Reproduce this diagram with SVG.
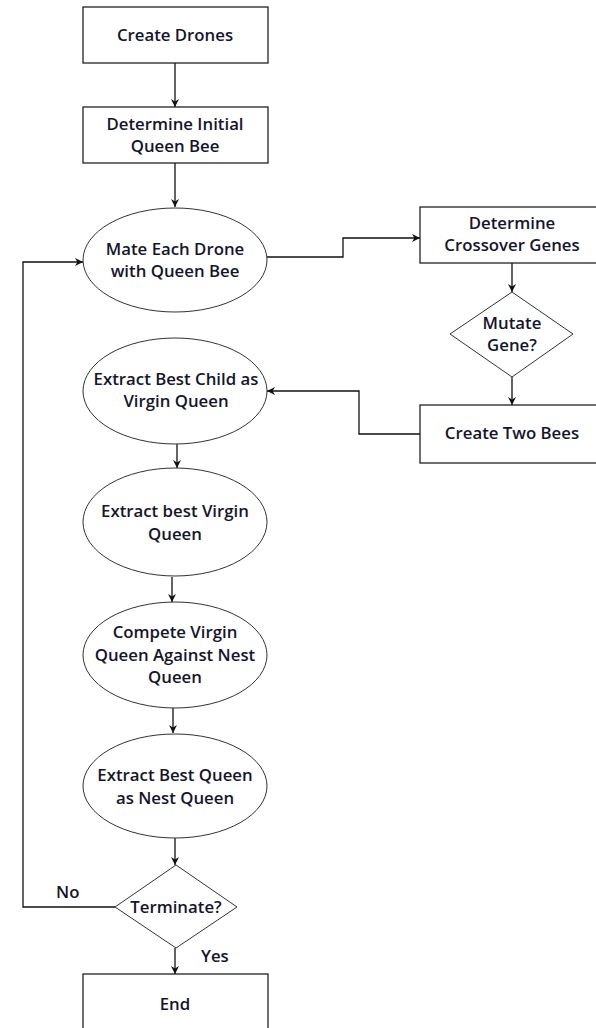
<svg xmlns="http://www.w3.org/2000/svg" width="596" height="1028" viewBox="0 0 596 1028">
<style>
.box{fill:#fff;stroke:#222;stroke-width:1.3}
.ell{fill:#fff;stroke:#333;stroke-width:1}
.dia{fill:#fff;stroke:#333;stroke-width:1}
.t{font-family:"Open Sans","Noto Sans",sans-serif;font-weight:600;font-size:16.8px;fill:#15152a;text-anchor:middle}
.lab{font-family:"Open Sans","Noto Sans",sans-serif;font-weight:600;font-size:16.8px;fill:#15152a}
.c{fill:none;stroke:#111;stroke-width:1.3;marker-end:url(#ah)}
</style>
<defs>
<marker id="ah" viewBox="0 0 10 10" refX="10" refY="5" markerWidth="8" markerHeight="8" markerUnits="userSpaceOnUse" orient="auto">
<path d="M0,0 L10,5 L0,10 L3,5 Z" fill="#111"/>
</marker>
</defs>
<rect width="596" height="1028" fill="#fff"/>
<g id="connectors">
<path class="c" d="M175,63 V107"/>
<path class="c" d="M175,163 V207"/>
<path class="c" d="M267,257 H343 V238 H420"/>
<path class="c" d="M512,263 V292"/>
<path class="c" d="M512,377 V405"/>
<path class="c" d="M420,434 H359 V391 H267"/>
<path class="c" d="M177,444 V468"/>
<path class="c" d="M172,577 V602"/>
<path class="c" d="M173,707 V733"/>
<path class="c" d="M175,838 V865"/>
<path class="c" d="M115,907 H23 V262 H83"/>
<path class="c" d="M175,948 V974"/>
<text class="lab" x="56" y="898">No</text>
<text class="lab" x="201" y="962">Yes</text>
</g>
<g id="create-drones">
<rect class="box" x="83" y="7" width="185" height="56"/>
<text class="t" x="175" y="41">Create Drones</text>
</g>
<g id="initial-queen">
<rect class="box" x="83" y="107" width="185" height="56"/>
<text class="t" x="175" y="130">Determine Initial</text>
<text class="t" x="175" y="152">Queen Bee</text>
</g>
<g id="mate">
<ellipse class="ell" cx="175" cy="260" rx="92" ry="52"/>
<text class="t" x="175" y="255">Mate Each Drone</text>
<text class="t" x="175" y="277">with Queen Bee</text>
</g>
<g id="crossover">
<rect class="box" x="420" y="207" width="185" height="56"/>
<text class="t" x="512" y="229">Determine</text>
<text class="t" x="512" y="251">Crossover Genes</text>
</g>
<g id="mutate">
<polygon class="dia" points="512,292 573,334 512,377 450,334"/>
<text class="t" x="512" y="329">Mutate</text>
<text class="t" x="512" y="351">Gene?</text>
</g>
<g id="two-bees">
<rect class="box" x="420" y="405" width="185" height="58"/>
<text class="t" x="512" y="439">Create Two Bees</text>
</g>
<g id="best-child">
<ellipse class="ell" cx="175" cy="391" rx="92" ry="53"/>
<text class="t" x="176" y="385">Extract Best Child as</text>
<text class="t" x="176" y="407">Virgin Queen</text>
</g>
<g id="best-virgin">
<ellipse class="ell" cx="175" cy="522" rx="92" ry="54"/>
<text class="t" x="175" y="517">Extract best Virgin</text>
<text class="t" x="175" y="540">Queen</text>
</g>
<g id="compete">
<ellipse class="ell" cx="175" cy="655" rx="92" ry="53"/>
<text class="t" x="175" y="638">Compete Virgin</text>
<text class="t" x="175" y="661">Queen Against Nest</text>
<text class="t" x="175" y="683">Queen</text>
</g>
<g id="best-queen">
<ellipse class="ell" cx="175" cy="786" rx="92" ry="52"/>
<text class="t" x="175" y="781">Extract Best Queen</text>
<text class="t" x="175" y="804">as Nest Queen</text>
</g>
<g id="terminate">
<polygon class="dia" points="176,865 237,907 176,948 115,907"/>
<text class="t" x="176" y="913">Terminate?</text>
</g>
<g id="end">
<rect class="box" x="83" y="974" width="185" height="60"/>
<text class="t" x="175" y="1010">End</text>
</g>
</svg>
